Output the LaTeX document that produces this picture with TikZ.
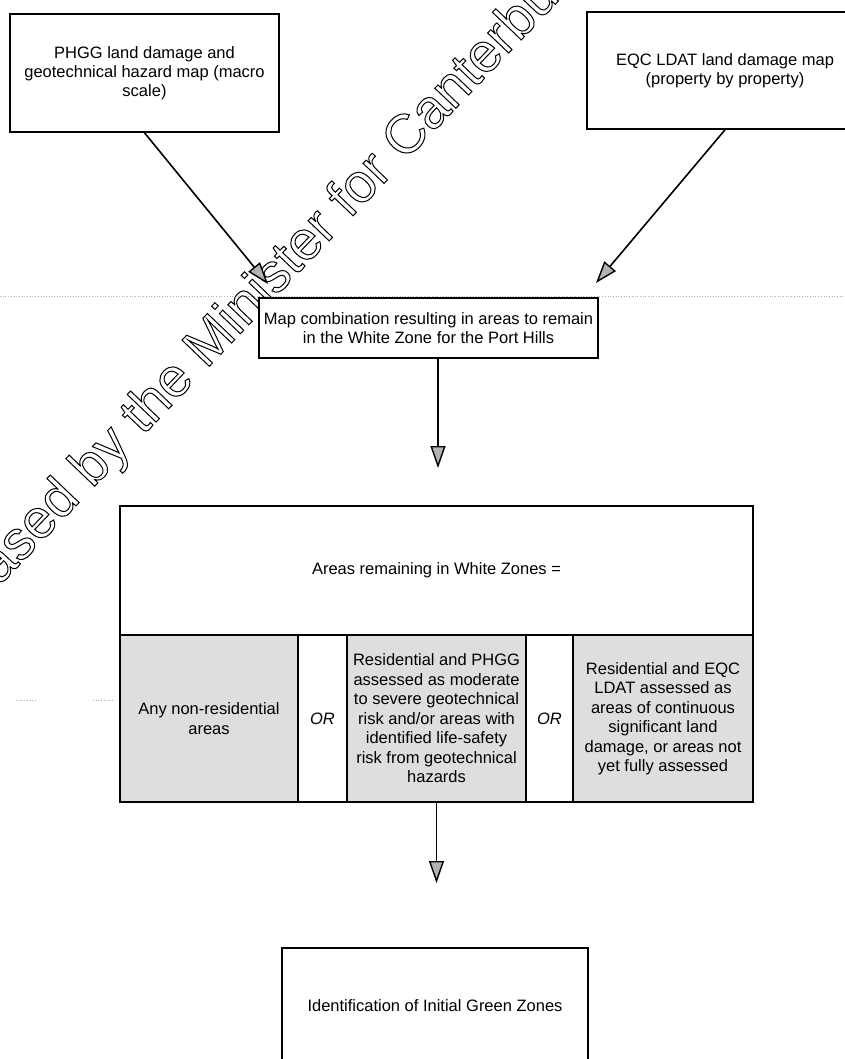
\documentclass[tikz,border=0pt]{standalone}
\usepackage{fontspec}
\setmainfont{Liberation Sans}
\usetikzlibrary{arrows.meta}
\begin{document}
\begin{tikzpicture}[x=1pt,y=-1pt,
  box/.style={draw=black, line width=1.6pt, align=center, inner sep=0pt, font=\fontsize{16.5}{19}\selectfont},
  cellbox/.style={box, fill=black!13, font=\fontsize{16.5}{19.5}\selectfont},
  orbox/.style={box, font=\fontsize{16.5}{19.5}\selectfont\itshape},
  arr/.style={line width=1.6pt, -{Triangle[length=22pt,width=15pt,fill=gray!60,line width=1.4pt]}},
  artifact/.style={gray!60, dotted, line width=0.7pt},
  wmark/.style={rotate=46.3, anchor=base west, inner sep=0pt, font=\fontsize{55}{55}\selectfont}]
\useasboundingbox (0,0) rectangle (845,1059);
\clip (0,0) rectangle (845,1059);
\fill[white] (0,0) rectangle (845,1059);
% scan artifacts
\draw[artifact] (0,296) -- (845,296);
\draw[artifact] (16,700) -- (35,700);
\draw[artifact] (93,700) -- (113,700);
% watermark
\node[wmark] (wm) at (-79,668) {\special{pdf:literal direct 1 Tr 1 w}Released by the Minister for Canterbury Earthquake Recovery\special{pdf:literal direct 0 Tr}};
% boxes
\node[box, minimum width=269pt, minimum height=118pt] (phgg) at (144.5,73) {PHGG land damage and\\geotechnical hazard map (macro\\scale)};
\node[box, minimum width=276pt, minimum height=117pt] (eqc) at (725,70.5) {EQC LDAT land damage map\\(property by property)};
\node[box, fill=white, minimum width=339pt, minimum height=60pt] (map) at (428.5,328) {Map combination resulting in areas to remain\\in the White Zone for the Port Hills};
\node[box, minimum width=633pt, minimum height=129pt] (hdr) at (436.5,570.5) {Areas remaining in White Zones =};
\node[cellbox, minimum width=178pt, minimum height=167pt] (c1) at (209,718.5) {Any non-residential\\areas};
\node[orbox, minimum width=49pt, minimum height=167pt] (or1) at (322.5,718.5) {OR};
\node[cellbox, minimum width=179pt, minimum height=167pt] (c2) at (436.5,718.5) {Residential and PHGG\\assessed as moderate\\to severe geotechnical\\risk and/or areas with\\identified life-safety\\risk from geotechnical\\hazards};
\node[orbox, minimum width=47pt, minimum height=167pt] (or2) at (549.5,718.5) {OR};
\node[cellbox, minimum width=180pt, minimum height=167pt] (c3) at (663,718.5) {Residential and EQC\\LDAT assessed as\\areas of continuous\\significant land\\damage, or areas not\\yet fully assessed};
\node[box, minimum width=306pt, minimum height=116pt] (green) at (435,1006) {Identification of Initial Green Zones};
% connectors
\coordinate (t1) at (268,284);
\coordinate (t2) at (596,283);
\coordinate (t3) at (438,468);
\coordinate (t4) at (436.5,883);
\draw[arr] (phgg.south) -- (t1);
\draw[arr] (eqc.south) -- (t2);
\draw[arr] (map.south -| t3) -- (t3);
\draw[arr] (c2.south) -- (t4);
\end{tikzpicture}
\end{document}
